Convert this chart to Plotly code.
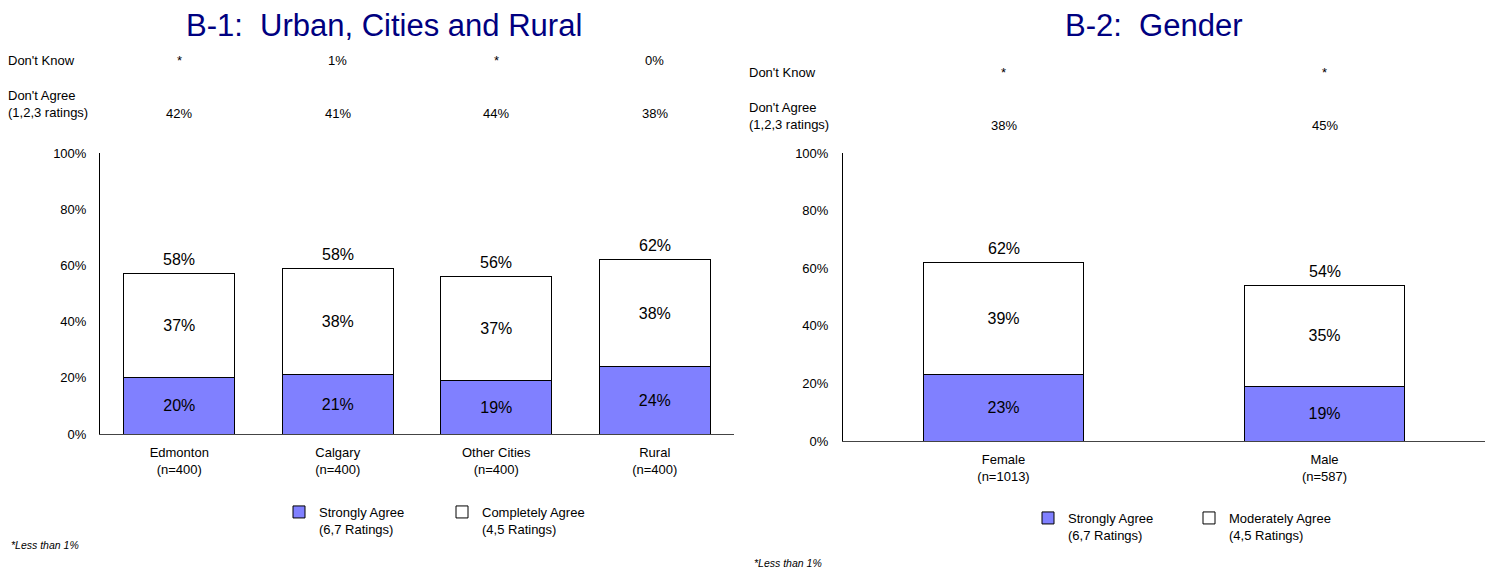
import plotly.graph_objects as go

# ---- Data: B-1 Urban, Cities and Rural ----
cats1 = ["Edmonton<br>(n=400)", "Calgary<br>(n=400)", "Other Cities<br>(n=400)", "Rural<br>(n=400)"]
strong1 = [20, 21, 19, 24]
complete1 = [37, 38, 37, 38]
total1 = [58, 58, 56, 62]
dontknow1 = ["*", "1%", "*", "0%"]
dontagree1 = ["42%", "41%", "44%", "38%"]

# ---- Data: B-2 Gender ----
cats2 = ["Female<br>(n=1013)", "Male<br>(n=587)"]
strong2 = [23, 19]
moderate2 = [39, 35]
total2 = [62, 54]
dontknow2 = ["*", "*"]
dontagree2 = ["38%", "45%"]

yticks = [0, 20, 40, 60, 80, 100]
yticktext = ["0%", "20%", "40%", "60%", "80%", "100%"]

W, H = 1492, 573
FONT = "Liberation Sans, Arial, sans-serif"
BLUE = "#8080FF"


def px(x):
    return x / W


def py(y):
    return 1 - y / H


fig = go.Figure()

fig.add_trace(go.Bar(
    x=cats1, y=strong1, name="Strongly Agree<br>(6,7 Ratings)",
    marker=dict(color=BLUE, line=dict(color="black", width=1)),
    width=0.7, text=[f"{v}%" for v in strong1], textposition="inside",
    insidetextanchor="middle", textangle=0,
    textfont=dict(size=16, color="black", family=FONT),
    xaxis="x", yaxis="y", legend="legend"))
fig.add_trace(go.Bar(
    x=cats1, y=complete1, name="Completely Agree<br>(4,5 Ratings)",
    marker=dict(color="white", line=dict(color="black", width=1)),
    width=0.7, text=[f"{v}%" for v in complete1], textposition="inside",
    insidetextanchor="middle", textangle=0,
    textfont=dict(size=16, color="black", family=FONT),
    xaxis="x", yaxis="y", legend="legend"))

fig.add_trace(go.Bar(
    x=cats2, y=strong2, name="Strongly Agree<br>(6,7 Ratings)",
    marker=dict(color=BLUE, line=dict(color="black", width=1)),
    width=0.5, text=[f"{v}%" for v in strong2], textposition="inside",
    insidetextanchor="middle", textangle=0,
    textfont=dict(size=16, color="black", family=FONT),
    xaxis="x2", yaxis="y2", legend="legend2"))
fig.add_trace(go.Bar(
    x=cats2, y=moderate2, name="Moderately Agree<br>(4,5 Ratings)",
    marker=dict(color="white", line=dict(color="black", width=1)),
    width=0.5, text=[f"{v}%" for v in moderate2], textposition="inside",
    insidetextanchor="middle", textangle=0,
    textfont=dict(size=16, color="black", family=FONT),
    xaxis="x2", yaxis="y2", legend="legend2"))

axis_common = dict(showgrid=False, zeroline=False, automargin=False,
                   tickfont=dict(size=13, color="black", family=FONT))

fig.update_layout(
    width=W, height=H, margin=dict(l=0, r=0, t=0, b=0, pad=0, autoexpand=False),
    paper_bgcolor="white", plot_bgcolor="white",
    barmode="stack",
    font=dict(family=FONT, size=13, color="black"),
    xaxis=dict(domain=[px(100), px(734)], range=[-0.5, 3.5], showline=True, linecolor="#444",
               ticks="outside", ticklen=6, tickcolor="rgba(0,0,0,0)", **axis_common),
    yaxis=dict(domain=[py(434), py(153)], range=[0, 100], showline=True, linecolor="black",
               tickmode="array", tickvals=yticks, ticktext=yticktext, ticks="outside", ticklen=10,
               tickcolor="rgba(0,0,0,0)", **axis_common),
    xaxis2=dict(domain=[px(843), px(1485)], range=[-0.5, 1.5], showline=True, linecolor="#444",
                anchor="y2", ticks="outside", ticklen=6, tickcolor="rgba(0,0,0,0)", **axis_common),
    yaxis2=dict(domain=[py(441), py(153)], range=[0, 100], showline=True, linecolor="black",
                anchor="x2", tickmode="array", tickvals=yticks, ticktext=yticktext, ticks="outside",
                ticklen=11, tickcolor="rgba(0,0,0,0)", **axis_common),
    legend=dict(orientation="h", x=px(279), y=py(497), xanchor="left", yanchor="top",
                valign="top", entrywidth=118, traceorder="normal",
                font=dict(size=13, family=FONT, color="black"),
                bgcolor="rgba(0,0,0,0)", itemclick=False),
    legend2=dict(orientation="h", x=px(1028), y=py(503), xanchor="left", yanchor="top",
                 valign="top", entrywidth=116, traceorder="normal",
                 font=dict(size=13, family=FONT, color="black"),
                 bgcolor="rgba(0,0,0,0)", itemclick=False),
)

ann = []
ann.append(dict(text="B-1:  Urban, Cities and Rural", x=px(384), y=py(25), xref="paper", yref="paper",
                showarrow=False, xanchor="center", yanchor="middle",
                font=dict(size=31, color="#000080", family=FONT)))
ann.append(dict(text="B-2:  Gender", x=px(1153), y=py(25), xref="paper", yref="paper",
                showarrow=False, xanchor="center", yanchor="middle",
                font=dict(size=31, color="#000080", family=FONT)))


def lab(text, x, y, align="left"):
    return dict(text=text, x=px(x), y=py(y), xref="paper", yref="paper", showarrow=False,
                xanchor="left", yanchor="middle", align=align,
                font=dict(size=13, color="black", family=FONT))


ann.append(lab("Don't Know", 6, 61))
ann.append(lab("Don't Agree<br>(1,2,3 ratings)", 6, 104))
ann.append(lab("Don't Know", 747, 72))
ann.append(lab("Don't Agree<br>(1,2,3 ratings)", 747, 116))

for c, dk, da in zip(cats1, dontknow1, dontagree1):
    ann.append(dict(text=dk, x=c, y=py(61), xref="x", yref="paper", showarrow=False,
                    yanchor="middle", font=dict(size=13, color="black", family=FONT)))
    ann.append(dict(text=da, x=c, y=py(113), xref="x", yref="paper", showarrow=False,
                    yanchor="middle", font=dict(size=13, color="black", family=FONT)))
for c, dk, da in zip(cats2, dontknow2, dontagree2):
    ann.append(dict(text=dk, x=c, y=py(72), xref="x2", yref="paper", showarrow=False,
                    yanchor="middle", font=dict(size=13, color="black", family=FONT)))
    ann.append(dict(text=da, x=c, y=py(125), xref="x2", yref="paper", showarrow=False,
                    yanchor="middle", font=dict(size=13, color="black", family=FONT)))

# Total labels above the stacked bars
for c, s, m, t in zip(cats1, strong1, complete1, total1):
    ann.append(dict(text=f"{t}%", x=c, y=s + m, xref="x", yref="y", showarrow=False,
                    yanchor="middle", yshift=14, font=dict(size=16, color="black", family=FONT)))
for c, s, m, t in zip(cats2, strong2, moderate2, total2):
    ann.append(dict(text=f"{t}%", x=c, y=s + m, xref="x2", yref="y2", showarrow=False,
                    yanchor="middle", yshift=14, font=dict(size=16, color="black", family=FONT)))

ann.append(dict(text="<i>*Less than 1%</i>", x=px(9), y=py(545), xref="paper", yref="paper",
                showarrow=False, xanchor="left", yanchor="middle",
                font=dict(size=10.5, color="black", family=FONT)))
ann.append(dict(text="<i>*Less than 1%</i>", x=px(752), y=py(563), xref="paper", yref="paper",
                showarrow=False, xanchor="left", yanchor="middle",
                font=dict(size=10.5, color="black", family=FONT)))

fig.update_layout(annotations=ann)

post = "document.body.style.margin='0';document.body.style.overflow='hidden';"

fig.write_html("out.html", post_script=post, config={"displayModeBar": False})
